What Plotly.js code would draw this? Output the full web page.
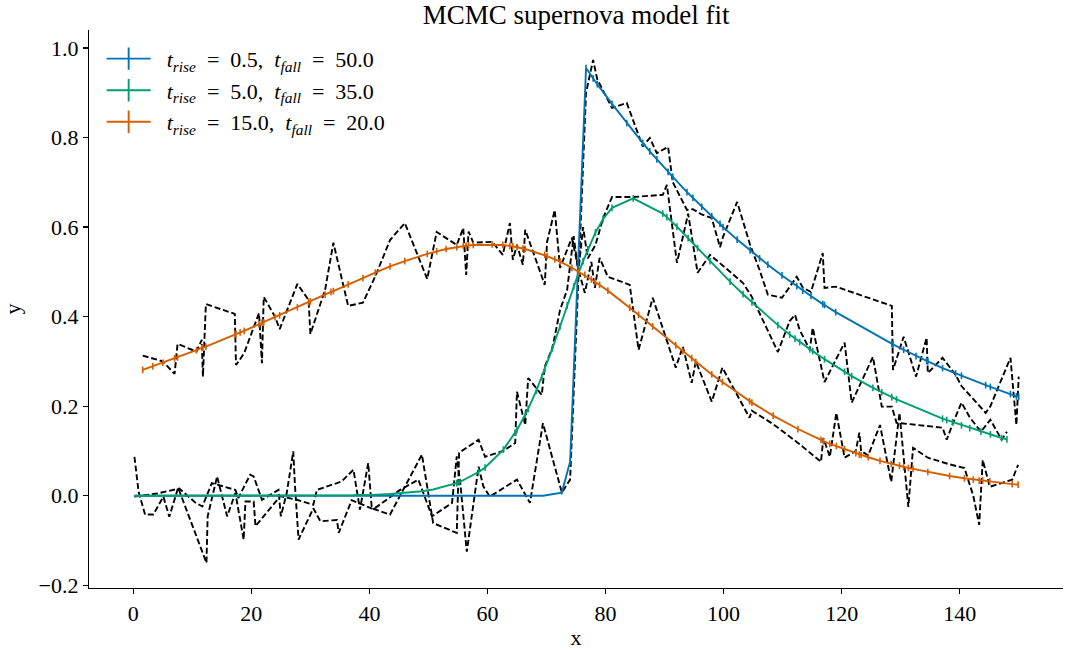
<!DOCTYPE html>
<html>
<head>
<meta charset="utf-8">
<script src="https://cdn.plot.ly/plotly-3.0.1.min.js"></script>
<style>html,body{margin:0;padding:0;background:#fff;}#chart{width:1066px;height:650px;}</style>
</head>
<body>
<div id="chart"></div>
<script>
// ---- data ----
const blueX = [0.2,4.0,7.8,10.5,11.7, 13.3,14.2,17.3,17.8,19.8, 20.4,21.8,24.6,25.0,26.0, 27.1,27.4,28.0,30.5,31.7, 34.5,34.8,37.0,40.7,45.2, 48.3,50.6,54.0,54.8,55.4, 56.5,58.5,59.3,60.4,65.0, 66.1,67.2,69.4,72.6,74.0, 76.7,77.9,78.6,81.1,83.6, 86.3,87.5,88.7,90.6,91.4, 93.8,94.8,96.3,98.0,99.4, 99.9,102.3,104.5,106.1,107.5, 109.9,112.4,113.4,114.8,116.8, 117.1,119.0,128.5,128.7,130.5, 132.6,134.4,134.6,137.1,139.3, 140.3,144.4,145.2,148.6,149.6, 150.0];
const blueData = [-0.002,0.005,0.016,-0.015,-0.024, 0.028,0.025,0.013,-0.005,0.047, 0.043,-0.009,0.013,-0.046,0.006, 0.099,0.021,-0.098,-0.028,-0.057, -0.054,-0.083,-0.010,-0.030,0.013, 0.036,-0.046,-0.016,0.088,0.028, -0.125,0.065,0.021,-0.002,0.036, 0.009,-0.016,0.162,0.007,0.036, 0.900,0.973,0.930,0.866,0.877, 0.780,0.799,0.765,0.779,0.700, 0.638,0.640,0.628,0.620,0.555, 0.578,0.656,0.560,0.504,0.449, 0.442,0.489,0.465,0.455,0.542, 0.464,0.467,0.424,0.281,0.355, 0.266,0.353,0.274,0.308,0.270, 0.245,0.185,0.200,0.308,0.158, 0.266];
const blueModel = [0,0,0,0,0, 0,0,0,0,0, 0,0,0,0,0, 0,0,0,0,0, 0,0,0,0,0, 0,0,0,0,0, 0,0,0,0,0, 0,0,0,0.007,0.076, 0.955,0.932,0.919,0.875,0.832, 0.788,0.769,0.751,0.723,0.712, 0.678,0.665,0.645,0.624,0.607, 0.600,0.572,0.548,0.530,0.516, 0.492,0.468,0.458,0.446,0.428, 0.426,0.410,0.339,0.338,0.326, 0.312,0.301,0.300,0.285,0.273, 0.268,0.247,0.243,0.227,0.222, 0.221];
const blueErr = [0,0,0,0,0, 0,0,0,0,0, 0,0,0,0,0, 0,0,0,0,0, 0,0,0,0,0, 0,0,0,0,0, 0,0,0,0,0, 0,0,0,0.004,0.0075, 0.0075,0.0075,0.0075,0.0075,0.0075, 0.0075,0.0075,0.0075,0.0075,0.0075, 0.0075,0.0075,0.0075,0.0075,0.0075, 0.0075,0.0075,0.0075,0.0075,0.0075, 0.0075,0.0075,0.0075,0.0075,0.0075, 0.0075,0.0075,0.0075,0.0075,0.0075, 0.0075,0.0075,0.0075,0.0075,0.0075, 0.0075,0.0075,0.0075,0.0075,0.0075, 0.0075];

const greenX = [0.2,0.9,2.0,3.4,5.1, 6.1,7.6,12.4,12.6,14.2, 15.9,17.3,18.7,19.0,20.4, 20.7,24.9,27.7,30.5,31.1, 35.3,37.3,38.4,39.8,40.4, 43.5,48.9,50.8,54.8,55.2, 58.5,59.6,62.7,64.7,65.0, 66.4,66.9,68.3,69.2,69.7, 71.0,72.3,73.5,74.6,75.4, 76.2,77.0,78.3,79.6,81.1, 84.7,89.7,90.4,92.1,94.0, 95.6,97.7,101.1,103.3,104.8, 109.2,111.2,112.1,112.9,114.6, 115.1,117.1,120.5,121.7,125.3, 126.8,128.5,129.3,137.1,137.8, 138.8,140.3,141.7,143.6,145.2, 147.1,148.0];
const greenData = [0.087,0.009,-0.042,-0.042,-0.002, -0.047,0.018,-0.150,-0.046,0.043, -0.046,0.006,-0.098,-0.013,-0.013, -0.068,-0.001,-0.009,-0.020,0.013, 0.032,0.058,-0.031,0.073,-0.028, -0.042,0.092,-0.061,-0.083,0.096, 0.125,0.087,0.100,0.118,0.232, 0.158,0.263,0.240,0.225,0.288, 0.330,0.415,0.460,0.580,0.500, 0.600,0.530,0.560,0.620,0.667, 0.667,0.672,0.694,0.520,0.630, 0.498,0.538,0.500,0.475,0.444, 0.321,0.390,0.404,0.370,0.326, 0.375,0.254,0.342,0.208,0.310, 0.199,0.199,0.163,0.152,0.125, 0.160,0.208,0.175,0.143,0.170, 0.125,0.143];
const greenModel = [0,0,0,0,0, 0,0,0,0,0, 0,0,0,0,0, 0,0,0,0,0.001, 0.001,0.001,0.002,0.002,0.002, 0.004,0.010,0.014,0.028,0.030, 0.053,0.063,0.103,0.141,0.147, 0.181,0.194,0.235,0.265,0.282, 0.329,0.378,0.425,0.467,0.496, 0.524,0.550,0.588,0.618,0.643, 0.664,0.630,0.622,0.601,0.575, 0.553,0.524,0.478,0.450,0.432, 0.381,0.360,0.351,0.343,0.327, 0.323,0.305,0.277,0.267,0.241, 0.231,0.220,0.215,0.172,0.169, 0.164,0.157,0.151,0.143,0.137, 0.129,0.126];
const greenErr = [0,0,0,0,0, 0,0,0,0,0, 0,0,0,0,0, 0,0,0,0,0, 0,0,0,0,0, 0,0,0,0.0075,0.0075, 0.0075,0.0075,0.0075,0.0075,0.0075, 0.0075,0.0075,0.0075,0.0075,0.0075, 0.0075,0.0075,0.0075,0.0075,0.0075, 0.0075,0.0075,0.0075,0.0075,0.0075, 0.0075,0.0075,0.0075,0.0075,0.0075, 0.0075,0.0075,0.0075,0.0075,0.0075, 0.0075,0.0075,0.0075,0.0075,0.0075, 0.0075,0.0075,0.0075,0.0075,0.0075, 0.0075,0.0075,0.0075,0.0075,0.0075, 0.0075,0.0075,0.0075,0.0075,0.0075, 0.0075,0.0075];

const orangeX = [1.6,3.3,5.0,7.0,7.5, 10.7,11.6,11.8,12.3,17.2, 17.4,18.1,18.8,21.3,21.8, 22.1,24.0,24.8,27.8,29.7, 30.0,32.5,33.5,33.9,36.4, 38.9,41.0,43.5,46.0,49.8, 51.4,53.0,54.8,55.9,56.4, 56.8,57.6,60.8,62.6,63.8, 64.3,65.0,66.0,66.4,69.7, 70.1,71.4,72.3,74.3,75.5, 76.5,77.6,78.2,79.0,80.4, 84.1,85.6,88.0,91.9,93.1, 94.6,95.3,98.0,99.8,104.4, 104.8,108.4,112.6,116.5,116.9, 118.0,119.1,120.5,122.4,123.0, 123.3,124.5,126.5,128.4,129.8, 130.5,131.3,132.1,134.6,138.3, 140.8,142.3,143.3,143.9,145.1, 148.9,149.9];
const orangeData = [0.313,0.306,0.300,0.272,0.339, 0.322,0.348,0.266,0.428,0.406, 0.292,0.305,0.319,0.408,0.296, 0.444,0.400,0.372,0.473,0.437, 0.361,0.460,0.530,0.565,0.424, 0.431,0.490,0.571,0.609,0.484, 0.589,0.575,0.560,0.598,0.493, 0.590,0.565,0.567,0.538,0.609, 0.527,0.560,0.516,0.594,0.471, 0.567,0.638,0.509,0.576,0.500, 0.453,0.522,0.464,0.531,0.489, 0.471,0.326,0.442,0.286,0.333, 0.252,0.300,0.210,0.286,0.174, 0.190,0.160,0.118,0.076,0.129, 0.087,0.185,0.085,0.100,0.141, 0.100,0.090,0.158,0.031,0.185, 0.080,-0.025,0.107,0.085,0.070, 0.062,0.000,-0.065,0.080,0.020, 0.036,0.069];
const orangeModel = [0.281,0.289,0.297,0.307,0.309, 0.325,0.330,0.331,0.333,0.360, 0.361,0.365,0.368,0.383,0.386, 0.387,0.399,0.403,0.421,0.432, 0.434,0.449,0.455,0.457,0.472, 0.486,0.498,0.512,0.524,0.540, 0.546,0.551,0.555,0.558,0.558, 0.559,0.560,0.561,0.560,0.558, 0.557,0.555,0.552,0.551,0.538, 0.535,0.528,0.523,0.509,0.500, 0.493,0.483,0.478,0.471,0.458, 0.420,0.404,0.378,0.336,0.323, 0.307,0.299,0.271,0.254,0.211, 0.208,0.179,0.149,0.125,0.122, 0.116,0.111,0.104,0.095,0.092, 0.091,0.086,0.078,0.071,0.067, 0.064,0.062,0.060,0.053,0.044, 0.039,0.036,0.034,0.034,0.032, 0.026,0.025];

const legendLabels = [
  '&#8194;<i>t</i><sub><i>rise</i></sub>&#8194;=&#8194;0.5,&#8194;<i>t</i><sub><i>fall</i></sub>&#8194;=&#8194;50.0',
  '&#8194;<i>t</i><sub><i>rise</i></sub>&#8194;=&#8194;5.0,&#8194;<i>t</i><sub><i>fall</i></sub>&#8194;=&#8194;35.0',
  '&#8194;<i>t</i><sub><i>rise</i></sub>&#8194;=&#8194;15.0,&#8194;<i>t</i><sub><i>fall</i></sub>&#8194;=&#8194;20.0'
];
const xTicks = [0, 20, 40, 60, 80, 100, 120, 140];
const yTicks = [-0.2, 0.0, 0.2, 0.4, 0.6, 0.8, 1.0];

// ---- styling ----
const colors = ['#0173B2', '#029E73', '#D55E00'];
const series = [
  {x: blueX, d: blueData, m: blueModel, e: blueErr},
  {x: greenX, d: greenData, m: greenModel, e: greenErr},
  {x: orangeX, d: orangeData, m: orangeModel, e: null}
];
const traces = [];
series.forEach((s) => {
  traces.push({
    x: s.x, y: s.d, type: 'scatter', mode: 'lines', showlegend: false, hoverinfo: 'skip',
    line: {color: 'black', width: 1.9, dash: '6px,2.8px'}
  });
});
series.forEach((s, i) => {
  const err = s.e ? {type: 'data', array: s.e, symmetric: true} : {type: 'constant', value: 0.0075};
  traces.push({
    x: s.x, y: s.m, type: 'scatter', mode: 'lines', showlegend: false,
    line: {color: colors[i], width: 1.9},
    error_y: Object.assign(err, {thickness: 1.6, width: 0, color: colors[i]})
  });
});
legendLabels.forEach((lab, i) => {
  traces.push({
    x: [null], y: [null], type: 'scatter', mode: 'lines+markers', name: lab,
    line: {color: colors[i], width: 1.9},
    marker: {symbol: 'line-ns', size: 16, color: colors[i], line: {color: colors[i], width: 1.9}}
  });
});

const layout = {
  width: 1066, height: 650,
  margin: {l: 89, r: 3, t: 30, b: 62},
  paper_bgcolor: 'white', plot_bgcolor: 'white',
  font: {family: 'Liberation Serif, serif', color: 'black', size: 21},
  title: {text: 'MCMC supernova model fit', font: {size: 27}, x: 0.5405, xref: 'container', xanchor: 'center', y: 1 - 15/650, yref: 'container', yanchor: 'middle'},
  xaxis: {
    range: [-7.5, 157.5], tickvals: xTicks, showline: true, linecolor: 'black', linewidth: 1.2,
    ticks: 'outside', ticklen: 5, tickwidth: 1.2, tickcolor: 'black', showgrid: false, zeroline: false,
    tickfont: {size: 22}, title: {text: 'x', standoff: 8, font: {size: 22}}
  },
  yaxis: {
    range: [-0.206, 1.04], tickvals: yTicks, tickformat: '.1f', showline: true, linecolor: 'black', linewidth: 1.2,
    ticks: 'outside', ticklen: 5, tickwidth: 1.2, tickcolor: 'black', showgrid: false, zeroline: false,
    tickfont: {size: 22}, title: {text: 'y', standoff: 18, font: {size: 22}}
  },
  legend: {x: 0.013, y: 0.986, xanchor: 'left', yanchor: 'top', bgcolor: 'rgba(0,0,0,0)', font: {size: 22}, itemwidth: 44},
  showlegend: true
};
Plotly.newPlot('chart', traces, layout, {displayModeBar: false, staticPlot: true});
</script>
</body>
</html>
